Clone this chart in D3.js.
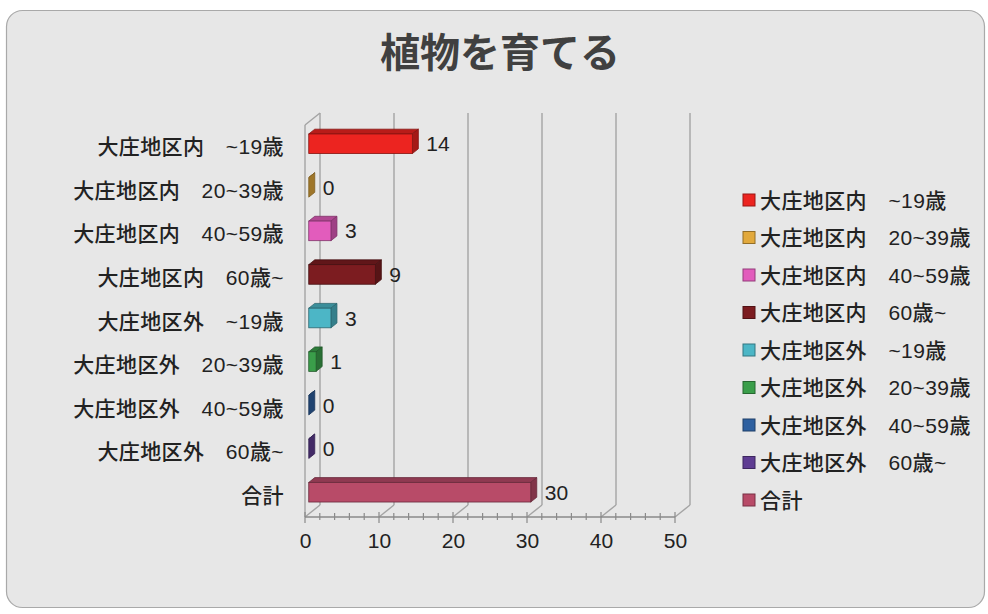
<!DOCTYPE html>
<html>
<head>
<meta charset="utf-8">
<script src="https://cdn.jsdelivr.net/npm/d3@7"></script>
<style>
	body { margin: 0; background: #ffffff; }
	text { font-family: "Liberation Sans", "Noto Sans CJK JP", sans-serif; }
</style>
</head>
<body>
<script>
// data
const title = "植物を育てる";
const categories = [
	"大庄地区内　~19歳", "大庄地区内　20~39歳", "大庄地区内　40~59歳", "大庄地区内　60歳~",
	"大庄地区外　~19歳", "大庄地区外　20~39歳", "大庄地区外　40~59歳", "大庄地区外　60歳~",
	"合計"
];
const values = [14, 0, 3, 9, 3, 1, 0, 0, 30];
const colors = ["#ec2420", "#e2a93c", "#e25cbc", "#7c1c20", "#4cb6c6", "#3a9e4a", "#2e60a0", "#5e3c92", "#b84b68"];
const xTicks = [0, 10, 20, 30, 40, 50];

const size_graph = {x: 988, y: 614};
const plot = {left: 305, right: 675, top: 125, bot: 517};
const depth = {x: 15, y: -12};      // back wall offset
const barDepth = {d0: 0.25, d1: 0.65};

const svg = d3.select("body").append('svg')
	.attr("width", size_graph.x)
	.attr("height", size_graph.y);

// panel
svg.append('rect')
	.attr('x', 6.5).attr('y', 10.5)
	.attr('width', 978).attr('height', 597)
	.attr('rx', 16)
	.style('fill', '#e7e7e7')
	.style('stroke', '#a9a9a9')
	.style('stroke-width', 1.2);

svg.append('text')
	.attr('x', 500).attr('y', 67)
	.attr('text-anchor', 'middle')
	.style('font-family', '"Noto Sans CJK JP", sans-serif')
	.style('font-size', '40px')
	.style('font-weight', 700)
	.style('fill', '#404040')
	.text(title);

let x = d3.scaleLinear().domain([0, 50]).range([plot.left, plot.right]);
let y = d3.scaleBand().domain(categories).range([plot.top, plot.bot])
	.paddingInner(0.55).paddingOuter(0.275);

let grid = svg.append('g')
	.style('stroke', '#a4a4a4')
	.style('stroke-width', 1.4)
	.style('fill', 'none');

// back wall verticals + floor diagonals
xTicks.forEach(function (t) {
	let xb = x(t) + depth.x;
	grid.append('line')
		.attr('x1', xb).attr('y1', plot.top + depth.y)
		.attr('x2', xb).attr('y2', plot.bot + depth.y);
	grid.append('line')
		.attr('x1', x(t)).attr('y1', plot.bot)
		.attr('x2', xb).attr('y2', plot.bot + depth.y);
});

// left wall
grid.append('line')
	.attr('x1', x(0)).attr('y1', plot.top)
	.attr('x2', x(0)).attr('y2', plot.bot);
grid.append('line')
	.attr('x1', x(0)).attr('y1', plot.top)
	.attr('x2', x(0) + depth.x).attr('y2', plot.top + depth.y);

// front axis
let xAxis = d3.axisBottom(x).tickValues(xTicks).tickSize(0).tickPadding(16);
let axisG = svg.append('g')
	.attr('transform', `translate(0,${plot.bot})`)
	.call(xAxis);
axisG.select('.domain').remove();
axisG.selectAll('text')
	.style('font-size', '21px')
	.style('fill', '#222')
	.attr('font-family', null);

svg.append('line')
	.attr('x1', x(0)).attr('y1', plot.bot)
	.attr('x2', x(50)).attr('y2', plot.bot)
	.style('stroke', '#8a8a8a').style('stroke-width', 1.4);

svg.append('g').selectAll('line')
	.data(d3.range(0, 51, 2))
	.enter().append('line')
	.attr('x1', d => x(d)).attr('x2', d => x(d))
	.attr('y1', d => plot.bot - (d % 10 === 0 ? 5 : 4))
	.attr('y2', d => plot.bot + (d % 10 === 0 ? 6 : 3))
	.style('stroke', '#8a8a8a').style('stroke-width', 1.2);

// category labels
svg.append('g').selectAll('text')
	.data(categories)
	.enter().append('text')
	.attr('x', 284)
	.attr('y', d => y(d) + y.bandwidth() / 2)
	.attr('dy', '0.36em')
	.attr('text-anchor', 'end')
	.style('font-size', '21px')
	.style('font-weight', 500)
	.style('letter-spacing', '0.4px')
	.style('fill', '#222')
	.text(d => d);

// 3d bars
let dx0 = depth.x * barDepth.d0, dy0 = depth.y * barDepth.d0;
let ddx = depth.x * (barDepth.d1 - barDepth.d0), ddy = depth.y * (barDepth.d1 - barDepth.d0);

let bars = svg.append('g').selectAll('g')
	.data(categories.map((c, i) => ({cat: c, v: values[i], col: colors[i]})))
	.enter().append('g');

bars.each(function (d) {
	let g = d3.select(this);
	let x0 = x(0) + dx0, x1 = x(d.v) + dx0;
	let y0 = y(d.cat) + dy0, y1 = y0 + y.bandwidth();
	let c = d3.color(d.col);
	let stroke = c.darker(1.6);

	g.append('polygon')
		.attr('points', [[x0, y0], [x1, y0], [x1 + ddx, y0 + ddy], [x0 + ddx, y0 + ddy]].join(' '))
		.style('fill', c.darker(0.7))
		.style('stroke', stroke).style('stroke-width', 0.8);
	g.append('polygon')
		.attr('points', [[x1, y0], [x1 + ddx, y0 + ddy], [x1 + ddx, y1 + ddy], [x1, y1]].join(' '))
		.style('fill', c.darker(1.0))
		.style('stroke', stroke).style('stroke-width', 0.8);
	if (d.v > 0)
		g.append('rect')
			.attr('x', x0).attr('y', y0)
			.attr('width', x1 - x0).attr('height', y1 - y0)
			.style('fill', c)
			.style('stroke', stroke).style('stroke-width', 0.8);

	g.append('text')
		.attr('x', x1 + ddx + 8)
		.attr('y', (y0 + y1) / 2)
		.attr('dy', '0.36em')
		.style('font-size', '21px')
		.style('fill', '#222')
		.text(d.v);
});

// legend
let legend = svg.append('g').selectAll('g')
	.data(categories.map((c, i) => ({cat: c, col: colors[i]})))
	.enter().append('g')
	.attr('transform', (d, i) => `translate(743,${200 + i * 37.5})`);

legend.append('rect')
	.attr('x', 0).attr('y', -6)
	.attr('width', 12).attr('height', 12)
	.style('fill', d => d.col)
	.style('stroke', d => d3.color(d.col).darker(1.2))
	.style('stroke-width', 1);

legend.append('text')
	.attr('x', 17).attr('dy', '0.36em')
	.style('font-size', '21px')
	.style('font-weight', 500)
	.style('letter-spacing', '0.4px')
	.style('fill', '#222')
	.text(d => d.cat);
</script>
</body>
</html>
